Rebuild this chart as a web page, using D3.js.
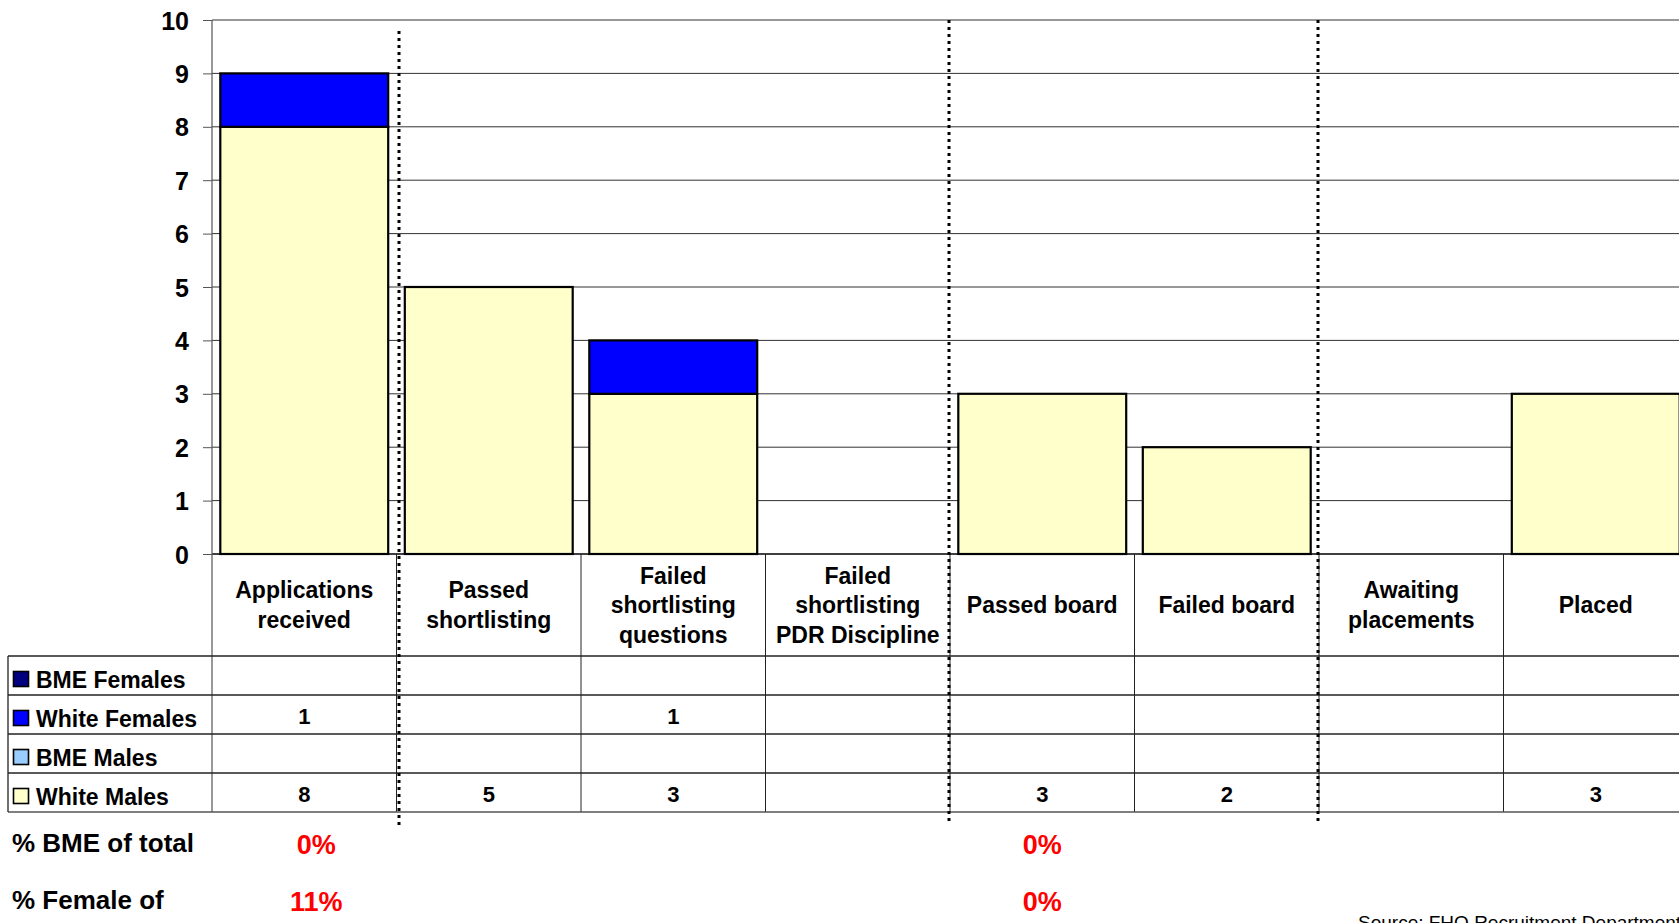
<!DOCTYPE html>
<html>
<head>
<meta charset="utf-8">
<script src="https://cdn.jsdelivr.net/npm/d3@7"></script>
<style>
  html, body { margin: 0; padding: 0; background: #fff; }
  svg { display: block; font-family: "Liberation Sans", Arial, Helvetica, sans-serif; }
</style>
</head>
<body>
<svg id="chart" width="1679" height="923"></svg>
<script>
// Recruitment stages (label lines for the data table header)
const categories = [
  "Applications received", "Passed shortlisting", "Failed shortlisting questions",
  "Failed shortlisting PDR Discipline", "Passed board", "Failed board",
  "Awaiting placements", "Placed"
];
const categoryLines = [
  ["Applications", "received"], ["Passed", "shortlisting"],
  ["Failed", "shortlisting", "questions"], ["Failed", "shortlisting", "PDR Discipline"],
  ["Passed board"], ["Failed board"], ["Awaiting", "placements"], ["Placed"]
];

// Series values (null = blank cell)
const whiteMales   = [8, 5, 3, null, 3, 2, null, 3];
const bmeMales     = [null, null, null, null, null, null, null, null];
const whiteFemales = [1, null, 1, null, null, null, null, null];
const bmeFemales   = [null, null, null, null, null, null, null, null];

const yTicks = [0, 1, 2, 3, 4, 5, 6, 7, 8, 9, 10];

// Stages after which a dotted divider is drawn
const dividerAfter = [0, 3, 5];
// Stages that carry the percentage summary
const summaryStages = [0, 4];
const summaryLabels = ["% BME of total", "% Female of"];

// Series in stacking order (bottom to top)
const series = [
  { name: "White Males",   values: whiteMales,   color: "#FFFFCC" },
  { name: "BME Males",     values: bmeMales,     color: "#99CCFF" },
  { name: "White Females", values: whiteFemales, color: "#0000FF" },
  { name: "BME Females",   values: bmeFemales,   color: "#000080" }
];

const svg = d3.select("#chart");
const W = 1679;
const plotLeft = 212, plotRight = 1688, plotTop = 20, plotBase = 554;

const y = d3.scaleLinear().domain([0, 10]).range([plotBase, plotTop]);
const cell = d3.scaleBand().domain(categories).range([plotLeft, plotRight]).padding(0);
const bar = d3.scaleBand().domain(categories).range([plotLeft, plotRight])
  .paddingInner(0.09).paddingOuter(0.045);

svg.append("defs").append("clipPath").attr("id", "clip")
  .append("rect").attr("x", 0).attr("y", 0).attr("width", W).attr("height", 923);
const g = svg.append("g").attr("clip-path", "url(#clip)");

// Gridlines
g.append("g").selectAll("line").data(yTicks.filter(d => d > 0)).join("line")
  .attr("x1", plotLeft).attr("x2", W)
  .attr("y1", d => y(d)).attr("y2", d => y(d))
  .attr("stroke", "#333").attr("stroke-width", 1);

// Y axis
const yAxis = d3.axisLeft(y).tickValues(yTicks).tickSize(9).tickPadding(14).tickFormat(d3.format("d"));
const ya = g.append("g").attr("transform", `translate(${plotLeft},0)`).call(yAxis);
ya.select(".domain").remove();
ya.selectAll(".tick line").attr("stroke", "#555");
ya.selectAll(".tick text").attr("font-size", 25).attr("font-weight", "bold")
  .attr("fill", "#000").attr("font-family", "'Liberation Sans', Arial, sans-serif")
  .attr("dy", "0.36em");

// Stacked bars
const rows = categories.map((c, i) => {
  const o = { cat: c };
  series.forEach(s => { o[s.name] = s.values[i] || 0; });
  return o;
});
const stack = d3.stack().keys(series.map(s => s.name))(rows);
stack.forEach((layer, li) => {
  g.append("g").selectAll("rect")
    .data(layer.filter(d => d[1] - d[0] > 0))
    .join("rect")
    .attr("x", d => bar(d.data.cat))
    .attr("width", bar.bandwidth())
    .attr("y", d => y(d[1]))
    .attr("height", d => y(d[0]) - y(d[1]))
    .attr("fill", series[li].color)
    .attr("stroke", "#000").attr("stroke-width", 2.2);
});

// Baseline
g.append("line").attr("x1", plotLeft).attr("x2", W).attr("y1", plotBase).attr("y2", plotBase)
  .attr("stroke", "#000").attr("stroke-width", 1.5);

// Data table
const headerBottom = 656, rowH = 39;
const tableRows = series.slice().reverse();
const tableBottom = headerBottom + rowH * tableRows.length;
const lineColor = "#222";

// Vertical axis line through the table
g.append("line").attr("x1", plotLeft).attr("x2", plotLeft).attr("y1", plotTop).attr("y2", tableBottom)
  .attr("stroke", "#555").attr("stroke-width", 1.2);

// Column separators
g.append("g").selectAll("line").data(categories.slice(1)).join("line")
  .attr("x1", d => cell(d)).attr("x2", d => cell(d))
  .attr("y1", plotBase).attr("y2", tableBottom)
  .attr("stroke", lineColor).attr("stroke-width", 1);

// Row lines
const rowYs = d3.range(tableRows.length + 1).map(i => headerBottom + i * rowH);
g.append("g").selectAll("line").data(rowYs).join("line")
  .attr("x1", 8).attr("x2", W).attr("y1", d => d).attr("y2", d => d)
  .attr("stroke", (d, i) => i === tableRows.length ? "#555" : lineColor).attr("stroke-width", 1.3);
g.append("line").attr("x1", 8).attr("x2", 8).attr("y1", headerBottom).attr("y2", tableBottom)
  .attr("stroke", lineColor).attr("stroke-width", 1.3);

// Header labels
const hdr = g.append("g").selectAll("text").data(categories).join("text")
  .attr("text-anchor", "middle").attr("font-size", 23).attr("font-weight", "bold").attr("fill", "#000");
hdr.each(function(c, i) {
  const lines = categoryLines[i];
  const lh = 29.5;
  const firstBase = 613 - (lines.length - 1) * lh / 2;
  d3.select(this).selectAll("tspan").data(lines).join("tspan")
    .attr("x", cell(c) + cell.bandwidth() / 2)
    .attr("y", (d, k) => firstBase + k * lh)
    .text(d => d);
});

// Legend keys and row names
tableRows.forEach((s, r) => {
  const rt = headerBottom + r * rowH;
  g.append("rect").attr("x", 13.5).attr("y", rt + 15.5).attr("width", 15).attr("height", 15)
    .attr("fill", s.color).attr("stroke", "#000").attr("stroke-width", 1.6);
  g.append("text").attr("x", 36).attr("y", rt + 31.5)
    .attr("font-size", 23).attr("font-weight", "bold").attr("fill", "#000").text(s.name);
  g.append("g").selectAll("text")
    .data(categories.map((c, i) => ({ c, v: s.values[i] })).filter(d => d.v != null))
    .join("text")
    .attr("x", d => cell(d.c) + cell.bandwidth() / 2)
    .attr("y", rt + 29)
    .attr("text-anchor", "middle").attr("font-size", 22).attr("font-weight", "bold")
    .attr("fill", "#000").text(d => d.v);
});

// Dotted dividers
g.append("g").selectAll("line").data(dividerAfter).join("line")
  .attr("x1", d => cell(categories[d + 1]) + (d === 0 ? 2.5 : -1))
  .attr("x2", d => cell(categories[d + 1]) + (d === 0 ? 2.5 : -1))
  .attr("y1", d => d === 0 ? 31 : plotTop).attr("y2", 825)
  .attr("stroke", "#000").attr("stroke-width", 3).attr("stroke-dasharray", "3,4");

// Percentage summary
const total = i => series.reduce((a, s) => a + (s.values[i] || 0), 0);
const pct = v => Math.round(v * 100) + "%";
const bmeShare = i => ((bmeMales[i] || 0) + (bmeFemales[i] || 0)) / total(i);
const femaleShare = i => ((whiteFemales[i] || 0) + (bmeFemales[i] || 0)) / total(i);
const summaryBase = [853, 910];

summaryLabels.forEach((lab, k) => {
  g.append("text").attr("x", 12).attr("y", summaryBase[k] - 1)
    .attr("font-size", 26).attr("font-weight", "bold").attr("fill", "#000").text(lab);
  g.append("g").selectAll("text").data(summaryStages).join("text")
    .attr("x", i => cell(categories[i]) + cell.bandwidth() / 2 + (i === 0 ? 12 : 0))
    .attr("y", summaryBase[k] + 1)
    .attr("text-anchor", "middle").attr("font-size", 27).attr("font-weight", "bold")
    .attr("fill", "#FF0000")
    .text(i => pct(k === 0 ? bmeShare(i) : femaleShare(i)));
});

// Source note
g.append("text").attr("x", 1358).attr("y", 929)
  .attr("font-size", 19).attr("fill", "#000").text("Source: FHQ Recruitment Department");
</script>
</body>
</html>
